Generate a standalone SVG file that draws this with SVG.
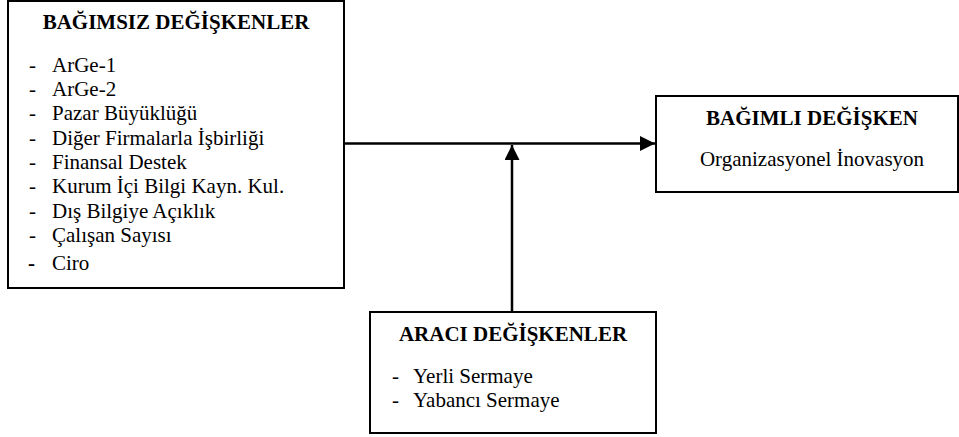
<svg xmlns="http://www.w3.org/2000/svg" width="959" height="437" viewBox="0 0 959 437">
<style>
.box{fill:#fff;stroke:#000;stroke-width:2}
.t{font-family:"Liberation Serif","Times New Roman",serif;font-size:21px;fill:#000}
.b{font-weight:bold}
.c{fill:none;stroke:#000;stroke-width:2.5}
</style>
<defs>
<marker id="ah" markerWidth="15" markerHeight="15" refX="15" refY="7.5" orient="auto" markerUnits="userSpaceOnUse">
<path d="M0,0 L15,7.5 L0,15 Z" fill="#000"/>
</marker>
</defs>
<g id="connectors">
<line class="c" x1="344" y1="143.5" x2="655" y2="143.5" marker-end="url(#ah)"/>
<line class="c" x1="512" y1="312" x2="512" y2="145" marker-end="url(#ah)"/>
</g>
<g id="bagimsiz">
<rect class="box" x="8" y="1" width="336" height="287"/>
<text class="t b" x="176" y="29" text-anchor="middle">BAĞIMSIZ DEĞİŞKENLER</text>
<g class="t">
<text x="29" y="72">-</text><text x="52" y="72">ArGe-1</text>
<text x="29" y="96">-</text><text x="52" y="96">ArGe-2</text>
<text x="29" y="120">-</text><text x="52" y="120">Pazar Büyüklüğü</text>
<text x="29" y="145">-</text><text x="52" y="145">Diğer Firmalarla İşbirliği</text>
<text x="29" y="169">-</text><text x="52" y="169">Finansal Destek</text>
<text x="29" y="193">-</text><text x="52" y="193">Kurum İçi Bilgi Kayn. Kul.</text>
<text x="29" y="218">-</text><text x="52" y="218">Dış Bilgiye Açıklık</text>
<text x="29" y="242">-</text><text x="52" y="242">Çalışan Sayısı</text>
<text x="28" y="270" style="font-weight:bold">-</text><text x="52" y="270">Ciro</text>
</g>
</g>
<g id="bagimli">
<rect class="box" x="656" y="96" width="302" height="96"/>
<text class="t b" x="812" y="125" text-anchor="middle">BAĞIMLI DEĞİŞKEN</text>
<text class="t" x="812" y="166" text-anchor="middle">Organizasyonel İnovasyon</text>
</g>
<g id="araci">
<rect class="box" x="370" y="312" width="286" height="121"/>
<text class="t b" x="513" y="341" text-anchor="middle">ARACI DEĞİŞKENLER</text>
<text class="t" x="392" y="383">-</text><text class="t" x="413" y="383">Yerli Sermaye</text>
<text class="t" x="392" y="407">-</text><text class="t" x="413" y="407">Yabancı Sermaye</text>
</g>
</svg>
